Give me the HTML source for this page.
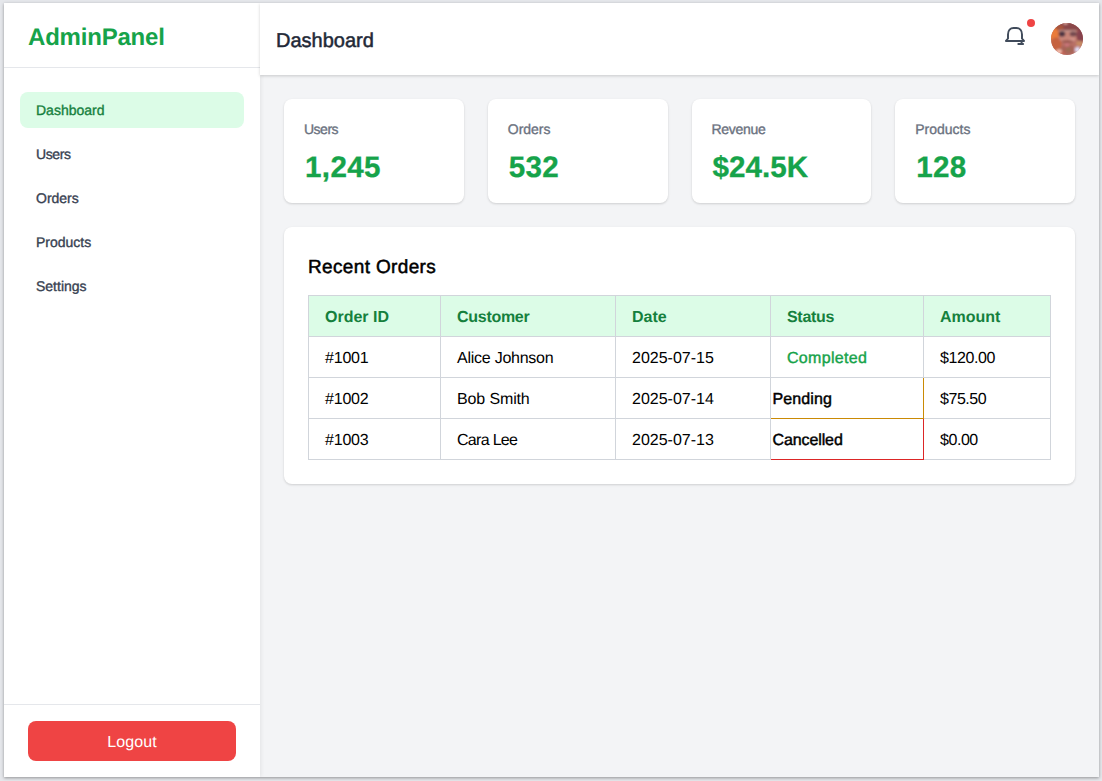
<!DOCTYPE html>
<html><head><meta charset="utf-8">
<style>
*{box-sizing:border-box;margin:0;padding:0}
html,body{width:1102px;height:781px;overflow:hidden;background:#e5e7eb;font-family:"Liberation Sans",sans-serif;text-rendering:geometricPrecision}
#app{position:absolute;left:4px;top:3px;width:1095px;height:774px;background:#f3f4f6;box-shadow:0 1px 3px rgba(0,0,0,.37);overflow:hidden}
#side{position:absolute;left:0;top:0;width:256px;height:774px;background:#fff;box-shadow:1px 0 4px rgba(0,0,0,.07);z-index:2}
#brand{position:absolute;left:24px;top:21px;font-size:24px;font-weight:700;color:#16a34a;line-height:28px;white-space:nowrap;letter-spacing:-0.2px}
#brandline{position:absolute;left:0;top:64px;width:256px;height:1px;background:#e5e7eb}
.sb{font-weight:400;-webkit-text-stroke:0.35px currentColor}
.nav{position:absolute;left:16px;width:224px;height:36px;border-radius:8px;padding-left:16px;line-height:36px;font-size:14px;color:#374151;white-space:nowrap}
.nav.act{background:#dcfce7;color:#15803d}
#logline{position:absolute;left:0;top:701px;width:256px;height:1px;background:#e5e7eb}
#logout{position:absolute;left:24px;top:718px;width:208px;height:40px;border-radius:8px;background:#ef4444;color:#fff;text-align:center;line-height:44px;font-size:16px;letter-spacing:0.1px}
#head{position:absolute;left:256px;top:0;width:839px;height:72px;background:#fff;box-shadow:0 1px 3px rgba(0,0,0,.18);z-index:3}
#title{position:absolute;left:16px;top:24px;font-size:20px;color:#1f2937;line-height:28px;white-space:nowrap;-webkit-text-stroke:0.5px currentColor}
#bell{position:absolute;left:739px;top:12px}
#dot{position:absolute;left:767px;top:16px;width:8px;height:8px;border-radius:50%;background:#ef4444}
#ava{position:absolute;left:791px;top:20px;width:32px;height:32px;border-radius:50%;overflow:hidden}
.card{position:absolute;top:96px;width:180px;height:104px;background:#fff;border-radius:8px;box-shadow:0 1px 3px rgba(0,0,0,.10),0 1px 2px rgba(0,0,0,.06)}
.card .l{position:absolute;left:20px;top:20px;font-size:14px;line-height:20px;color:#6b7280;white-space:nowrap}
.card .v{position:absolute;left:21px;top:51px;font-size:29.6px;letter-spacing:0.35px;-webkit-text-stroke:0.3px currentColor;line-height:36px;color:#16a34a;font-weight:700;white-space:nowrap}
#tcard{position:absolute;left:280px;top:224px;width:791px;height:257px;background:#fff;border-radius:8px;box-shadow:0 1px 3px rgba(0,0,0,.10),0 1px 2px rgba(0,0,0,.06)}
#tcard h2{position:absolute;left:24px;top:27px;font-size:19px;line-height:28px;font-weight:400;color:#000;white-space:nowrap;-webkit-text-stroke:0.5px #000;letter-spacing:0.35px}
table{position:absolute;left:24px;top:68px;width:742px;border-collapse:collapse;table-layout:fixed;font-size:16px;line-height:24px;color:#000}
th,td{border:1px solid #d1d5db;padding:10px 16px 6px;text-align:left;white-space:nowrap;height:41px}
th{background:#dcfce7;color:#15803d;font-weight:700}
td.ok{color:#16a34a;-webkit-text-stroke:0.4px currentColor;letter-spacing:0.3px}
td.pend{letter-spacing:0.1px;padding:3px 0 0 1.6px;-webkit-text-stroke:0.45px #000;border-color:#ca8a04}
td.canc{letter-spacing:-0.12px;padding:3px 0 0 1.6px;-webkit-text-stroke:0.45px #000;border-color:#dc2626}
</style></head><body>
<div id="app">
 <div id="side">
  <div id="brand">AdminPanel</div>
  <div id="brandline"></div>
  <div class="nav sb act" style="top:89px">Dashboard</div>
  <div class="nav sb" style="top:133px;letter-spacing:-0.4px">Users</div>
  <div class="nav sb" style="top:177px">Orders</div>
  <div class="nav sb" style="top:221px">Products</div>
  <div class="nav sb" style="top:265px">Settings</div>
  <div id="logline"></div>
  <div id="logout">Logout</div>
 </div>
 <div id="head">
  <div id="title">Dashboard</div>
  <svg id="bell" width="40" height="40" viewBox="0 0 40 40" fill="none" stroke="#404b5b" stroke-width="1.95" stroke-linecap="round" stroke-linejoin="round"><path d="M9 23.5V19.5C9 15.5 11.5 13 14.5 13H17.5C20.5 13 23 15.5 23 19.5V23.5M9 23.5L7 25.9H25L23 23.5M19.3 29H24.1M22.8 26L22.4 29"/></svg>
  <div id="dot"></div>
  <div id="ava"><svg width="32" height="32" viewBox="0 0 32 32"><defs><filter id="bl" x="-20%" y="-20%" width="140%" height="140%"><feGaussianBlur stdDeviation="0.85"/></filter></defs>
   <rect width="32" height="32" fill="#b87066"/>
   <g filter="url(#bl)">
    <rect x="-4" y="-4" width="40" height="11.5" fill="#8a4648"/>
    <ellipse cx="8" cy="4.5" rx="5" ry="3" fill="#a8553c"/>
    <ellipse cx="14.5" cy="0.3" rx="2" ry="1.2" fill="#e6b0a6"/>
    <ellipse cx="3" cy="11.5" rx="5" ry="6.5" fill="#ea7c3a"/>
    <ellipse cx="5" cy="21" rx="5.5" ry="6.5" fill="#c5623f"/>
    <ellipse cx="30" cy="12.5" rx="4.5" ry="6.5" fill="#87424e"/>
    <ellipse cx="16.5" cy="14.5" rx="8.5" ry="6" fill="#c98578"/>
    <rect x="8" y="7.2" width="17" height="1.5" fill="#c09a92"/>
    <ellipse cx="11" cy="11" rx="3.3" ry="2.7" fill="#4e3442"/>
    <ellipse cx="22.2" cy="11" rx="3.6" ry="2.5" fill="#73494f"/>
    <ellipse cx="21.5" cy="16.5" rx="3" ry="1.8" fill="#d4948a"/>
    <ellipse cx="16.5" cy="18.6" rx="6" ry="1.5" fill="#9c5a52"/>
    <ellipse cx="16.5" cy="26.5" rx="7" ry="5" fill="#a86458"/>
    <ellipse cx="16" cy="22" rx="2.6" ry="1.8" fill="#c9747a"/>
    <ellipse cx="17.5" cy="26.5" rx="2.2" ry="2" fill="#9a7052"/>
    <ellipse cx="28.5" cy="20.5" rx="3.5" ry="2.8" fill="#c68a64"/>
    <ellipse cx="26.5" cy="26.8" rx="2.8" ry="3" fill="#e0dcf6"/>
    <ellipse cx="8" cy="28.5" rx="3" ry="2.2" fill="#f2bcac"/>
    <ellipse cx="12" cy="30" rx="2" ry="1.6" fill="#c65f4c"/>
   </g></svg></div>
 </div>
 <div class="card" style="left:280px"><div class="l sb" style="letter-spacing:-0.5px">Users</div><div class="v">1,245</div></div>
 <div class="card" style="left:483.75px"><div class="l sb">Orders</div><div class="v">532</div></div>
 <div class="card" style="left:687.5px;width:179.75px"><div class="l sb" style="letter-spacing:-0.3px">Revenue</div><div class="v" style="letter-spacing:0.05px">$24.5K</div></div>
 <div class="card" style="left:891.25px"><div class="l sb">Products</div><div class="v">128</div></div>
 <div id="tcard">
  <h2>Recent Orders</h2>
  <table>
   <colgroup><col style="width:132px"><col style="width:175px"><col style="width:155px"><col style="width:153px"><col style="width:127px"></colgroup>
   <tr><th>Order ID</th><th style="letter-spacing:-0.28px">Customer</th><th>Date</th><th style="letter-spacing:-0.3px">Status</th><th>Amount</th></tr>
   <tr><td style="letter-spacing:-0.2px">#1001</td><td style="letter-spacing:-0.25px">Alice Johnson</td><td>2025-07-15</td><td class="ok">Completed</td><td style="letter-spacing:-0.4px">$120.00</td></tr>
   <tr><td style="letter-spacing:-0.2px">#1002</td><td style="letter-spacing:-0.13px">Bob Smith</td><td>2025-07-14</td><td class="pend">Pending</td><td style="letter-spacing:-0.45px">$75.50</td></tr>
   <tr><td style="letter-spacing:-0.2px">#1003</td><td style="letter-spacing:-0.7px">Cara Lee</td><td>2025-07-13</td><td class="canc">Cancelled</td><td style="letter-spacing:-0.45px">$0.00</td></tr>
  </table>
 </div>
</div>
</body></html>
